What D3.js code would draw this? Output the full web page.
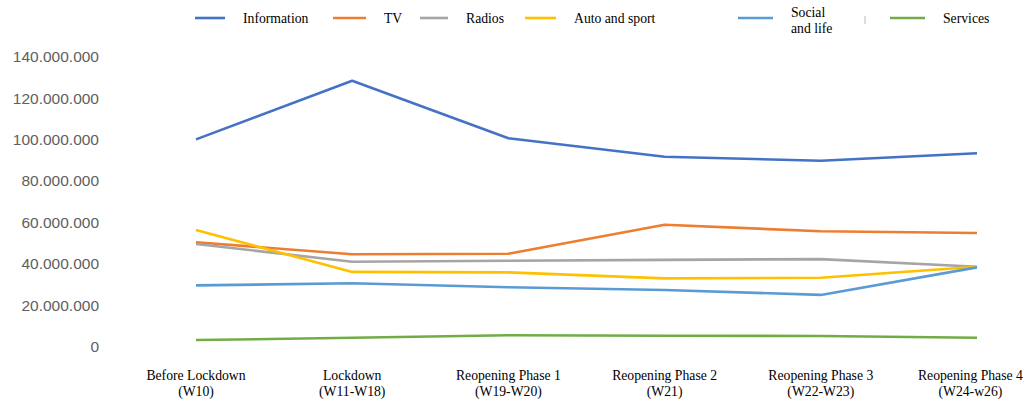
<!DOCTYPE html>
<html>
<head>
<meta charset="utf-8">
<script src="https://cdn.jsdelivr.net/npm/d3@7"></script>
<style>
  body { margin: 0; background: #fff; }
  svg { display: block; }
</style>
</head>
<body>
<div id="chart"></div>
<script>
// categories along the x axis (two lines each)
const periods = [
  ["Before Lockdown", "(W10)"],
  ["Lockdown", "(W11-W18)"],
  ["Reopening Phase 1", "(W19-W20)"],
  ["Reopening Phase 2", "(W21)"],
  ["Reopening Phase 3", "(W22-W23)"],
  ["Reopening Phase 4", "(W24-w26)"]
];

// series values
const information = [100100000, 128400000, 100600000, 91700000, 89800000, 93400000];
const tv          = [50400000, 44600000, 44900000, 58900000, 55700000, 54900000];
const radios      = [49600000, 41000000, 41500000, 41900000, 42300000, 38600000];
const autoSport   = [56300000, 36100000, 35900000, 33000000, 33300000, 38600000];
const socialLife  = [29600000, 30600000, 28700000, 27400000, 25000000, 38300000];
const services    = [3200000, 4300000, 5500000, 5300000, 5200000, 4300000];

const yTicks = [0, 20000000, 40000000, 60000000, 80000000, 100000000, 120000000, 140000000];

const series = [
  { name: ["Information"], values: information, color: "#4472C4" },
  { name: ["TV"], values: tv, color: "#ED7D31" },
  { name: ["Radios"], values: radios, color: "#A5A5A5" },
  { name: ["Auto and sport"], values: autoSport, color: "#FFC000" },
  { name: ["Social", "and life"], values: socialLife, color: "#5B9BD5" },
  { name: ["Services"], values: services, color: "#70AD47" }
];

const width = 1025, height = 401;

const svg = d3.select("#chart").append("svg")
  .attr("width", width)
  .attr("height", height);

const x = d3.scalePoint()
  .domain(d3.range(periods.length))
  .range([196, 977]);

const y = d3.scaleLinear()
  .domain([0, 140000000])
  .range([346.7, 56.7]);

// y axis labels, dots as thousands separator
const fmt = d3.formatLocale({ decimal: ",", thousands: ".", grouping: [3], currency: ["", ""] }).format(",d");

const yAxis = svg.append("g")
  .attr("transform", "translate(99,0)")
  .call(d3.axisLeft(y).tickValues(yTicks).tickFormat(fmt).tickSize(0).tickPadding(0));
yAxis.select(".domain").remove();
yAxis.selectAll("text")
  .attr("font-family", "Liberation Sans, Arial, sans-serif")
  .attr("font-size", 15.5)
  .attr("fill", "#606060");

// x axis labels
const xLab = svg.append("g")
  .attr("font-family", "Liberation Serif, Times New Roman, serif")
  .attr("font-size", 13.7)
  .attr("fill", "#000")
  .attr("text-anchor", "middle");

xLab.selectAll("text")
  .data(periods)
  .enter().append("text")
  .attr("x", (d, i) => x(i))
  .attr("y", 379.5)
  .each(function (d) {
    const t = d3.select(this);
    t.append("tspan").attr("x", t.attr("x")).text(d[0]);
    t.append("tspan").attr("x", t.attr("x")).attr("dy", 16.5).text(d[1]);
  })
  .each(function () {
    // keep the last label inside the picture, as the reference does
    const b = this.getBBox();
    const over = b.x + b.width - (width - 2);
    if (over > 0) {
      const t = d3.select(this);
      const nx = +t.attr("x") - over;
      t.attr("x", nx).selectAll("tspan").attr("x", nx);
    }
  });

// lines
const line = d3.line()
  .x((d, i) => x(i))
  .y(d => y(d));

svg.append("g").selectAll("path")
  .data(series)
  .enter().append("path")
  .attr("d", d => line(d.values))
  .attr("fill", "none")
  .attr("stroke", d => d.color)
  .attr("stroke-width", 2.6)
  .attr("stroke-linejoin", "round");

// legend
const legendX = [195, 333, 420, 525, 738, 890];
const legendW = [30, 33, 28, 31, 35, 35];
const legend = svg.append("g")
  .attr("font-family", "Liberation Serif, Times New Roman, serif")
  .attr("font-size", 13.7)
  .attr("fill", "#000");

const item = legend.selectAll("g")
  .data(series)
  .enter().append("g")
  .attr("transform", (d, i) => `translate(${legendX[i]},18)`);

item.append("line")
  .attr("x1", 0)
  .attr("x2", (d, i) => legendW[i])
  .attr("stroke", d => d.color)
  .attr("stroke-width", 2.6);

item.append("text")
  .attr("x", (d, i) => legendW[i] + 18)
  .attr("y", d => d.name.length > 1 ? -1 : 4.5)
  .each(function (d) {
    const t = d3.select(this);
    d.name.forEach((s, k) => {
      t.append("tspan").attr("x", t.attr("x")).attr("dy", k ? 16 : 0).text(s);
    });
  });

// small separator mark in the legend
legend.append("line")
  .attr("x1", 865).attr("x2", 865)
  .attr("y1", 16).attr("y2", 24)
  .attr("stroke", "#bbb")
  .attr("stroke-width", 1);
</script>
</body>
</html>
